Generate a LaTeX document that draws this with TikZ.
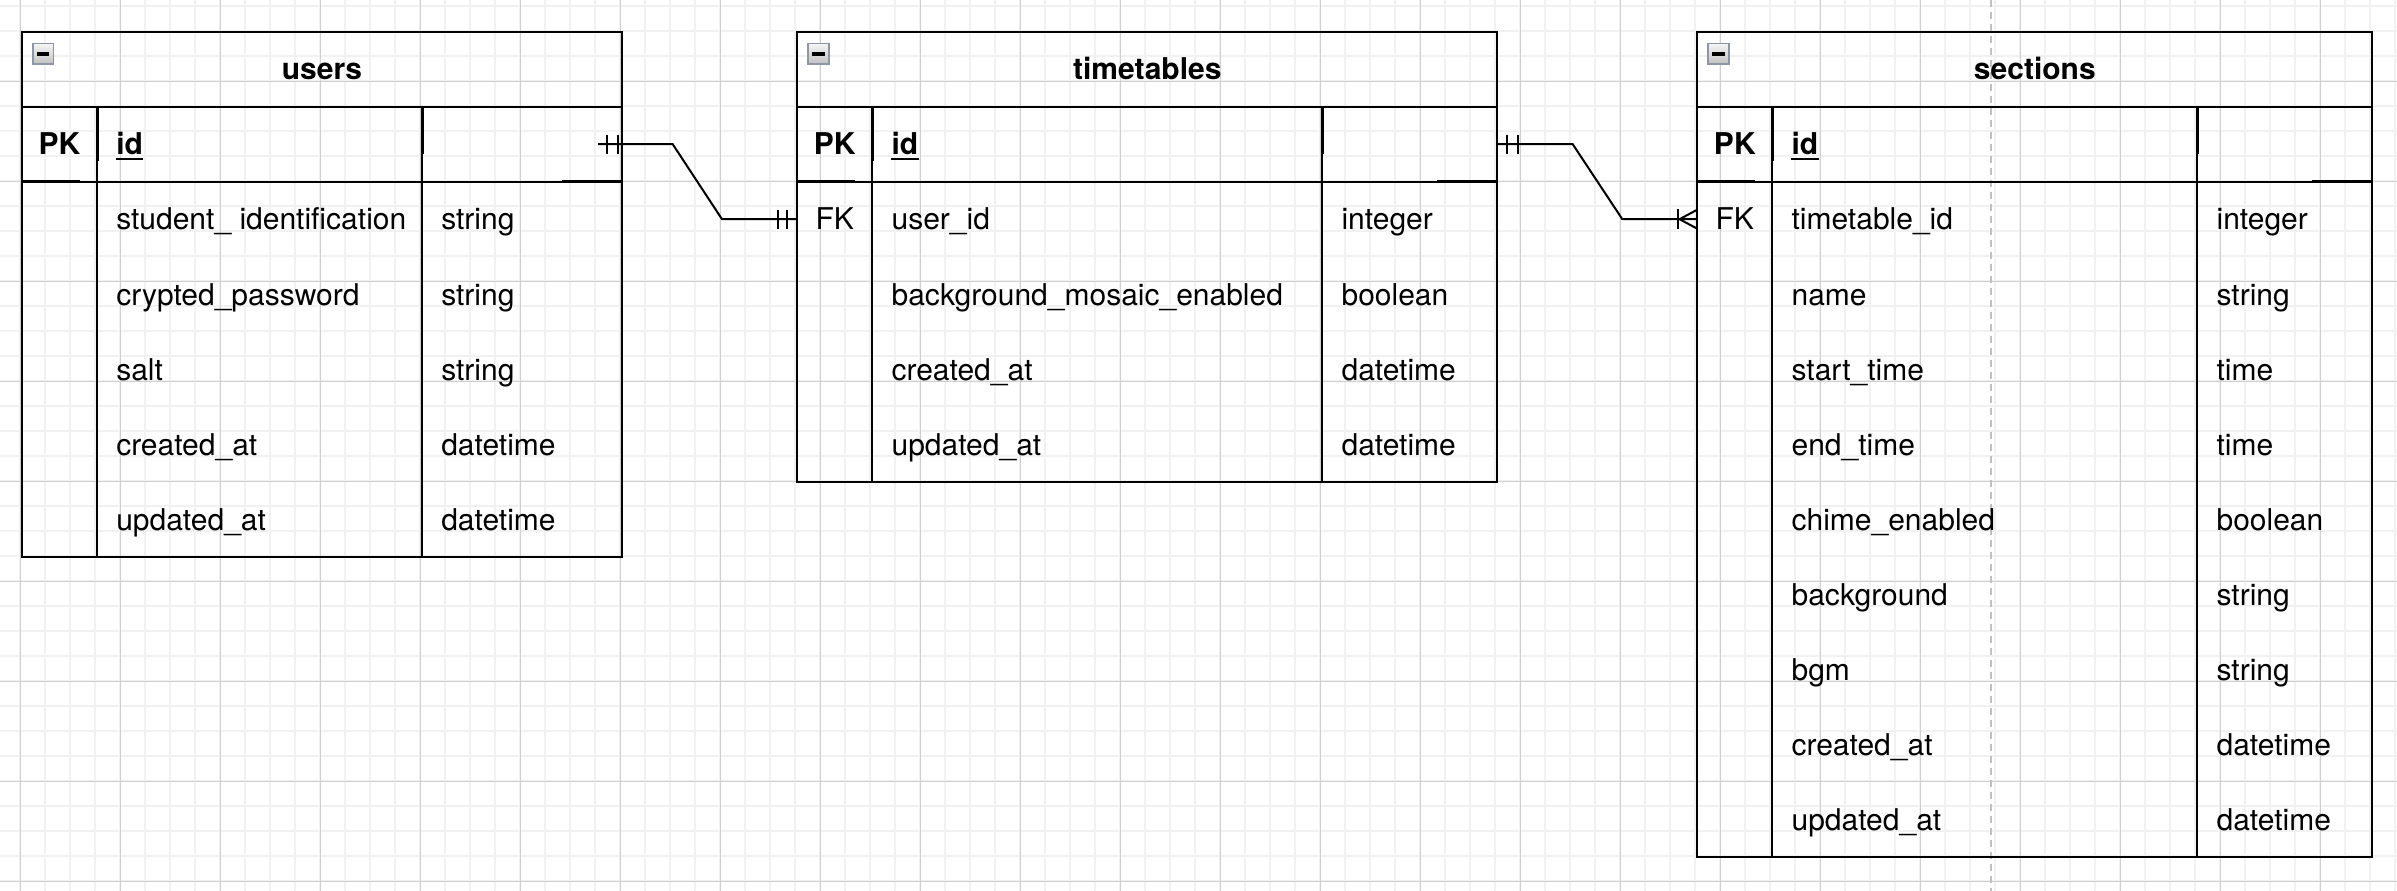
\documentclass[tikz,border=0pt]{standalone}
\usepackage{fontspec}
\setmainfont{TeX Gyre Heros}
\definecolor{gridminor}{HTML}{F1F1F1}
\definecolor{gridmajor}{HTML}{CFCFCF}
\definecolor{pagebreak}{HTML}{C0C0C0}
\definecolor{iconborder}{HTML}{8E95A5}
\definecolor{icontop}{HTML}{F4F4F4}
\definecolor{iconbot}{HTML}{C2C2C2}

% #1 name, #2 L, #3 d1, #4 d2, #5 R, #6 rows (incl. PK), #7 title
\newcommand\ertable[7]{%
  \pgfmathsetmacro\erbot{106.7+75*#6}
  \coordinate (#1-nw) at (#2,31.7);
  \coordinate (#1-se) at (#5,\erbot);
  \draw[tblline] (#1-nw) rectangle (#1-se);
  \draw[tblline] (#2,106.7) -- (#5,106.7);
  \draw[tblline] (#2,181.7) -- (#5,181.7);
  \draw[tblline] (#3,106.7) -- (#3,\erbot);
  \draw[tblline] (#4,106.7) -- (#4,\erbot);
  \draw[tblthick] (#3,106.7) -- (#3,161);
  \draw[tblthick] (#4,106.7) -- (#4,154);
  \draw[tblthick] (#2,181.7) -- ({#2+58},181.7);
  \draw[tblthick] ({#5-60},181.7) -- (#5,181.7);
  \shade[top color=icontop,bottom color=iconbot,draw=iconborder,line width=1.2pt]
    ({#2+10.8},43.6) rectangle ({#2+31.4},63.8);
  \fill[black] ({#2+14.7},52.4) rectangle ({#2+27.3},55.6);
  \node[titletxt,anchor=base] (#1-title) at ({(#2+#5)/2},80) {#7};
}
% PK row: #1 name, #2 L, #3 d1
\newcommand\erpk[3]{%
  \node[titletxt,anchor=base] (#1-k0) at ({(#2+#3)/2},155) {PK};
  \node[titletxt,anchor=base west] (#1-f0) at ({#3+19},155) {id};
  \draw[black,line width=1.5pt] ([yshift=-3.2pt]#1-f0.base west) -- ([yshift=-3.2pt]#1-f0.base east);
}
% #1 name, #2 row idx, #3 L, #4 d1, #5 d2, #6 key, #7 field, #8 type
\newcommand\errow[8]{%
  \pgfmathsetmacro\erbase{155+75*#2}
  \node[txt,anchor=base] (#1-k#2) at ({(#3+#4)/2},\erbase) {#6};
  \node[txt,anchor=base west] (#1-f#2) at ({#4+19},\erbase) {#7};
  \node[txt,anchor=base west] (#1-t#2) at ({#5+19},\erbase) {#8};
}

\begin{document}
\begin{tikzpicture}[x=0.75pt,y=-0.75pt,
  minorline/.style={gridminor,line width=1.5pt},
  majorline/.style={gridmajor,line width=0.75pt},
  breakline/.style={pagebreak,line width=1.5pt,dash pattern=on 5.25pt off 3.75pt},
  tblline/.style={black,line width=1.5pt},
  tblthick/.style={black,line width=2.25pt},
  conn/.style={black,line width=1.5pt},
  txt/.style={inner sep=0pt,font=\fontsize{22.5pt}{27pt}\selectfont,text=black},
  titletxt/.style={inner sep=0pt,font=\fontsize{22.5pt}{27pt}\selectfont\bfseries,text=black}]

\useasboundingbox (0,0) rectangle (2397,891);
\fill[white] (0,0) rectangle (2397,891);

% grid
\foreach \k in {0,...,95} \draw[minorline] ({20.3+25*\k},0) -- ({20.3+25*\k},891);
\foreach \k in {0,...,35} \draw[minorline] (0,{6.3+25*\k}) -- (2397,{6.3+25*\k});
\foreach \k in {0,...,23} \draw[majorline] ({20.3+100*\k},0) -- ({20.3+100*\k},891);
\foreach \k in {0,...,8} \draw[majorline] (0,{81.3+100*\k}) -- (2397,{81.3+100*\k});

% page break
\draw[breakline] (1991,0) -- (1991,891);

% users
\ertable{u}{22}{97}{422}{622}{6}{users}
\erpk{u}{22}{97}
\errow{u}{1}{22}{97}{422}{}{student\_ identification}{string}
\errow{u}{2}{22}{97}{422}{}{crypted\_password}{string}
\errow{u}{3}{22}{97}{422}{}{salt}{string}
\errow{u}{4}{22}{97}{422}{}{created\_at}{datetime}
\errow{u}{5}{22}{97}{422}{}{updated\_at}{datetime}

% timetables
\ertable{tt}{797.3}{872.3}{1322.3}{1497.3}{5}{timetables}
\erpk{tt}{797.3}{872.3}
\errow{tt}{1}{797.3}{872.3}{1322.3}{FK}{user\_id}{integer}
\errow{tt}{2}{797.3}{872.3}{1322.3}{}{background\_mosaic\_enabled}{boolean}
\errow{tt}{3}{797.3}{872.3}{1322.3}{}{created\_at}{datetime}
\errow{tt}{4}{797.3}{872.3}{1322.3}{}{updated\_at}{datetime}

% sections
\ertable{s}{1697.3}{1772.3}{2197.3}{2372.3}{10}{sections}
\erpk{s}{1697.3}{1772.3}
\errow{s}{1}{1697.3}{1772.3}{2197.3}{FK}{timetable\_id}{integer}
\errow{s}{2}{1697.3}{1772.3}{2197.3}{}{name}{string}
\errow{s}{3}{1697.3}{1772.3}{2197.3}{}{start\_time}{time}
\errow{s}{4}{1697.3}{1772.3}{2197.3}{}{end\_time}{time}
\errow{s}{5}{1697.3}{1772.3}{2197.3}{}{chime\_enabled}{boolean}
\errow{s}{6}{1697.3}{1772.3}{2197.3}{}{background}{string}
\errow{s}{7}{1697.3}{1772.3}{2197.3}{}{bgm}{string}
\errow{s}{8}{1697.3}{1772.3}{2197.3}{}{created\_at}{datetime}
\errow{s}{9}{1697.3}{1772.3}{2197.3}{}{updated\_at}{datetime}

% connector users.id -> timetables.user_id
\coordinate (c1s) at (598,144.2);
\coordinate (c1a) at (672.7,144.2);
\coordinate (c1b) at (722,219.2);
\coordinate (tt-w1) at (797.3,219.2);
\draw[conn] (c1s) -- (c1a) -- (c1b) -- (tt-w1);
\draw[conn] (606.7,134.7) -- (606.7,153.7);
\draw[conn] (617.7,134.7) -- (617.7,153.7);
\draw[conn] (778.3,209.7) -- (778.3,228.7);
\draw[conn] (787.3,209.7) -- (787.3,228.7);

% connector timetables.id -> sections.timetable_id
\coordinate (tt-e0) at (1497.3,144.2);
\coordinate (c2a) at (1572.7,144.2);
\coordinate (c2b) at (1622.3,219.2);
\coordinate (s-w1) at (1697.3,219.2);
\draw[conn] (tt-e0) -- (c2a) -- (c2b) -- (s-w1);
\draw[conn] (1506.7,134.7) -- (1506.7,153.7);
\draw[conn] (1517.7,134.7) -- (1517.7,153.7);
\draw[conn] (1678.3,209.2) -- (1678.3,229.2);
\draw[conn] (1697.3,209.7) -- (1679.5,219.2) -- (1697.3,228.7);

\end{tikzpicture}
\end{document}
